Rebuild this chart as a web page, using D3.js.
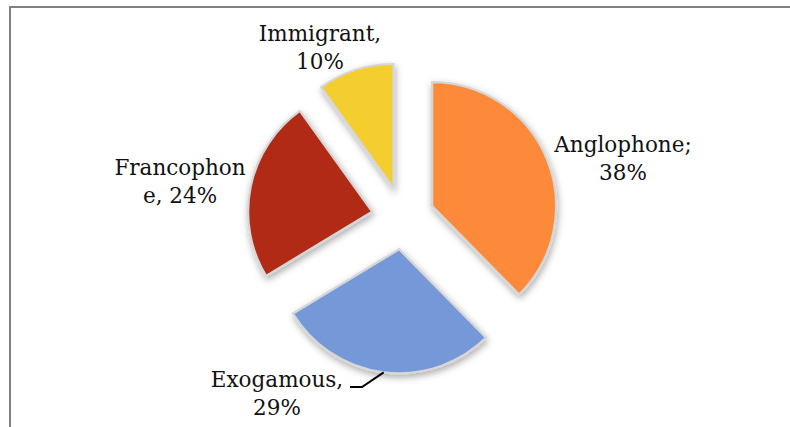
<!DOCTYPE html>
<html>
<head>
<meta charset="utf-8">
<script src="https://cdn.jsdelivr.net/npm/d3@7"></script>
<style>
  html, body { margin: 0; padding: 0; background: #fff; }
  svg { display: block; }
</style>
</head>
<body>
<svg id="chart" width="790" height="427"></svg>
<script>
// Language groups and their shares (%)
const categories = ["Anglophone", "Exogamous", "Francophone", "Immigrant"];
const shares = [38, 29, 24, 10];
const colours = ["#fd8a3a", "#7598d8", "#b12b17", "#f4cd2f"];

// Label lines for each slice (text as printed)
const labelLines = [
  ["Anglophone;", "38%"],
  ["Exogamous,", "29%"],
  ["Francophon", "e, 24%"],
  ["Immigrant,", "10%"]
];

const svg = d3.select("#chart");
const W = 790, H = 427;

// Frame around the chart area
svg.append("path")
  .attr("d", `M10,${H} L10,7 L${W},7`)
  .attr("fill", "none")
  .attr("stroke", "#808080")
  .attr("stroke-width", 2);

// Soft drop shadow under every slice
const defs = svg.append("defs");
const f = defs.append("filter").attr("id", "shadow")
  .attr("x", "-20%").attr("y", "-20%").attr("width", "140%").attr("height", "140%");
f.append("feDropShadow")
  .attr("dx", 1).attr("dy", 3)
  .attr("stdDeviation", 3.5)
  .attr("flood-color", "#000")
  .attr("flood-opacity", 0.33);

const cx = 403, cy = 218;
const radius = 124;
const explode = 31.5;

const data = categories.map((c, i) => ({ name: c, value: shares[i], colour: colours[i], lines: labelLines[i] }));

const pie = d3.pie().sort(null).value(d => d.value);
const arc = d3.arc().innerRadius(0).outerRadius(radius);
const arcs = pie(data);

const g = svg.append("g").attr("transform", `translate(${cx},${cy})`);

g.selectAll("path.slice")
  .data(arcs)
  .join("path")
  .attr("class", "slice")
  .attr("transform", d => {
    const a = (d.startAngle + d.endAngle) / 2;
    return `translate(${explode * Math.sin(a)},${-explode * Math.cos(a)})`;
  })
  .attr("d", arc)
  .attr("fill", d => d.data.colour)
  .attr("stroke", "#d6d6d6")
  .attr("stroke-width", 2.2)
  .attr("stroke-linejoin", "miter")
  .attr("filter", "url(#shadow)");

// Label anchor positions (centre of text block, first baseline)
const labelPos = {
  Anglophone: [623, 152],
  Exogamous: [277, 387],
  Francophone: [180, 175],
  Immigrant: [320, 41]
};
const lineGap = 28;

const labels = svg.append("g")
  .attr("font-family", "'DejaVu Serif', serif")
  .attr("font-size", 21.5)
  .attr("fill", "#111")
  .attr("text-anchor", "middle");

data.forEach(d => {
  const [x, y] = labelPos[d.name];
  d.lines.forEach((t, k) => {
    labels.append("text")
      .attr("x", x)
      .attr("y", y + k * lineGap)
      .text(t);
  });
});

// Leader line from the Exogamous label to the middle of its arc
const exo = arcs[1];
const exoMid = (exo.startAngle + exo.endAngle) / 2;
const exoOuter = [
  cx + (explode + radius) * Math.sin(exoMid),
  cy - (explode + radius) * Math.cos(exoMid)
];
svg.append("path")
  .attr("d", d3.line()([[350, 387], [362, 387], exoOuter]))
  .attr("fill", "none")
  .attr("stroke", "#000")
  .attr("stroke-width", 2);
</script>
</body>
</html>
